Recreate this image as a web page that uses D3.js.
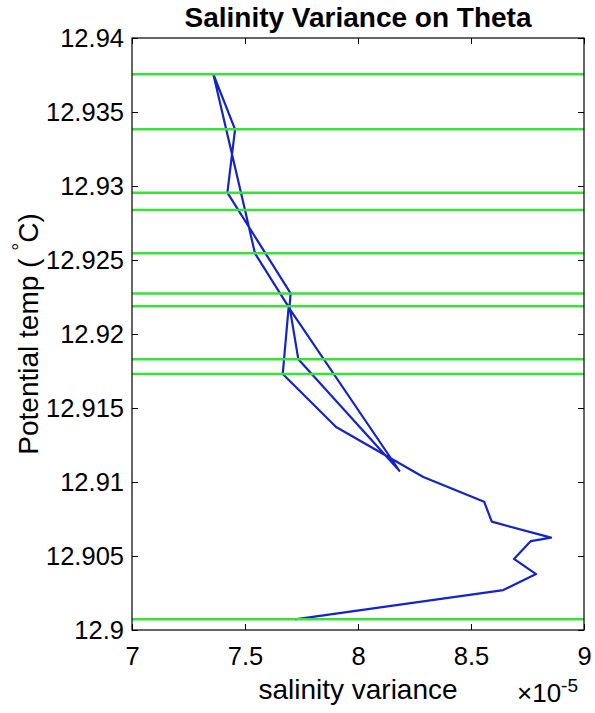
<!DOCTYPE html>
<html>
<head>
<meta charset="utf-8">
<script src="https://cdn.jsdelivr.net/npm/d3@7"></script>
<style>
  body { margin: 0; background: #fff; }
  text { font-family: "Liberation Sans", Arial, Helvetica, sans-serif; fill: #000; }
</style>
</head>
<body>
<svg width="595" height="713"></svg>
<script>
// salinity variance in units of 1e-5, path order as plotted
const varianceE5 = [7.721, 8.643, 8.788, 8.690, 8.765, 8.854, 8.592, 8.558, 8.289, 7.903,
  7.667, 7.693, 8.183, 7.736, 7.697, 7.702, 7.422, 7.456, 7.360, 7.500, 7.544, 7.690];
const theta = [12.90072, 12.90270, 12.90378, 12.90480, 12.90601, 12.90624, 12.90732, 12.90867, 12.91034, 12.91372,
  12.91730, 12.92180, 12.91076, 12.91829, 12.92187, 12.92274, 12.92955, 12.93383, 12.93755, 12.92838, 12.92545, 12.92190];

// horizontal reference lines (theta levels)
const markLevels = [12.93755, 12.93383, 12.92955, 12.92838, 12.92545, 12.92274, 12.92187, 12.91829, 12.91730, 12.90072];

const xTicks = [7, 7.5, 8, 8.5, 9];
const yTicks = [12.9, 12.905, 12.91, 12.915, 12.92, 12.925, 12.93, 12.935, 12.94];

function drawChart() {
  let svg = d3.select("svg"),
    margin = { top: 38, right: 11, bottom: 83, left: 132 },
    width = svg.attr("width") - margin.left - margin.right,
    height = svg.attr("height") - margin.top - margin.bottom,
    g = svg.append("g").attr("transform", "translate(" + margin.left + "," + margin.top + ")");

  let x = d3.scaleLinear().domain([7, 9]).range([0, width]),
    y = d3.scaleLinear().domain([12.9, 12.94]).range([height, 0]);

  let points = varianceE5.map((v, i) => ({ v: v, t: theta[i] }));

  let line = d3.line()
    .x(d => x(d.v))
    .y(d => y(d.t));

  g.append("path")
    .datum(points)
    .attr("fill", "none")
    .attr("stroke", "#1524c8")
    .attr("stroke-width", 2.2)
    .attr("stroke-linejoin", "round")
    .attr("d", line);

  g.selectAll(".level")
    .data(markLevels)
    .enter().append("line")
    .attr("class", "level")
    .attr("x1", 0)
    .attr("x2", width)
    .attr("y1", d => y(d))
    .attr("y2", d => y(d))
    .attr("stroke", "#36e336")
    .attr("stroke-width", 2.5);

  // axes, ticks pointing inward on all four sides
  let fmtY = d => String(+d.toFixed(3));

  let xAxis = g.append("g")
    .attr("transform", "translate(0," + height + ")")
    .call(d3.axisBottom(x).tickValues(xTicks).tickFormat(d => String(d))
      .tickSizeInner(-6).tickSizeOuter(0).tickPadding(17));
  xAxis.selectAll("text").style("font-size", "25.5px");

  g.append("g")
    .call(d3.axisTop(x).tickValues(xTicks).tickFormat("")
      .tickSizeInner(-6).tickSizeOuter(0));

  let yAxis = g.append("g")
    .call(d3.axisLeft(y).tickValues(yTicks).tickFormat(fmtY)
      .tickSizeInner(-6).tickSizeOuter(0).tickPadding(8));
  yAxis.selectAll("text").style("font-size", "25.5px");

  g.append("g")
    .attr("transform", "translate(" + width + ",0)")
    .call(d3.axisRight(y).tickValues(yTicks).tickFormat("")
      .tickSizeInner(-6).tickSizeOuter(0));

  g.selectAll(".domain").remove();
  g.selectAll(".tick line").attr("stroke", "#000").attr("stroke-width", 1);

  g.append("rect")
    .attr("width", width)
    .attr("height", height)
    .attr("fill", "none")
    .attr("stroke", "#000")
    .attr("stroke-width", 1.2);

  // title and labels
  svg.append("text")
    .attr("x", margin.left + width / 2)
    .attr("y", 27)
    .attr("text-anchor", "middle")
    .style("font-size", "28px")
    .style("font-weight", "bold")
    .text("Salinity Variance on Theta");

  svg.append("text")
    .attr("x", margin.left + width / 2)
    .attr("y", 699)
    .attr("text-anchor", "middle")
    .style("font-size", "28px")
    .text("salinity variance");

  let expo = svg.append("text")
    .attr("x", 517)
    .attr("y", 702)
    .style("font-size", "26px");
  expo.append("tspan").text("\u00d710");
  expo.append("tspan").attr("dy", -10).style("font-size", "19px").text("-5");

  let ylab = svg.append("text")
    .attr("transform", "translate(38," + (margin.top + height / 2) + ") rotate(-90)")
    .attr("text-anchor", "middle")
    .style("font-size", "28px");
  ylab.append("tspan").text("Potential temp ( ");
  ylab.append("tspan").attr("dy", -11).style("font-size", "20px").text("\u00b0");
  ylab.append("tspan").attr("dy", 11).text("C)");
}

drawChart();
</script>
</body>
</html>
